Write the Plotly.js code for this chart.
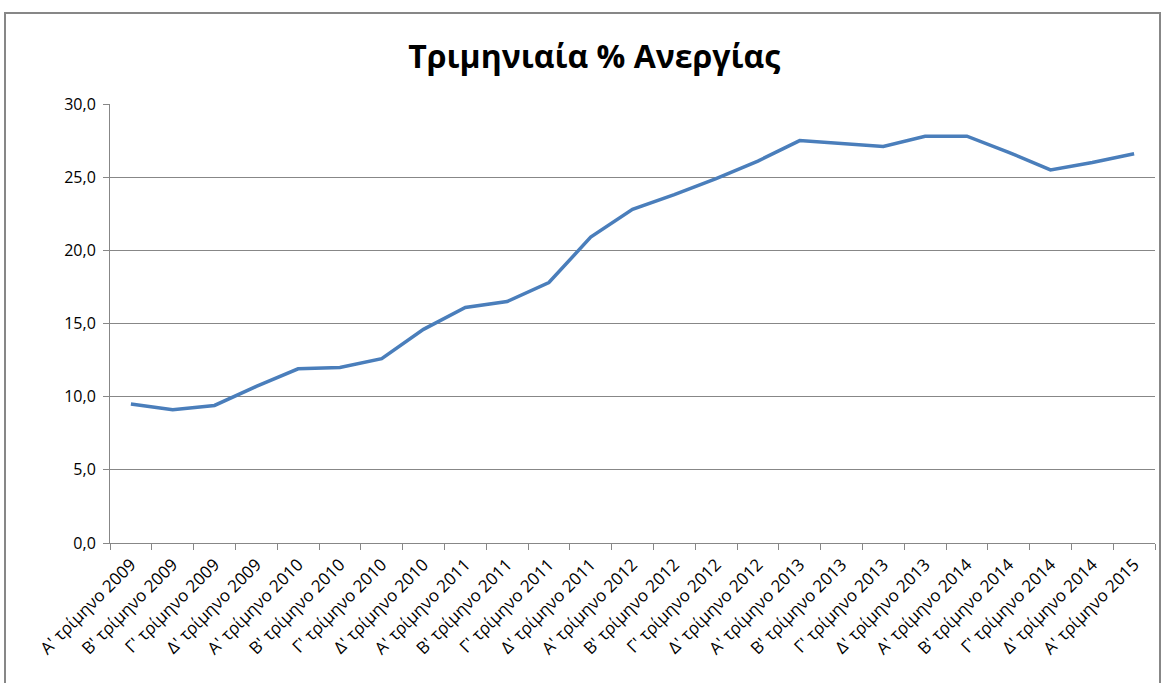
<!DOCTYPE html>
<html>
<head>
<meta charset="utf-8">
<script src="https://cdn.plot.ly/plotly-3.0.1.min.js"></script>
<style>
  html, body { margin: 0; padding: 0; background: #fff; }
  #frame { position: absolute; left: 4px; top: 12px; width: 1157px; height: 720px;
           border: 2px solid #878787; border-bottom: none; box-sizing: border-box; }
  #chart { position: absolute; left: 0; top: 0; width: 1165px; height: 683px; }
</style>
</head>
<body>
<div id="frame"></div>
<div id="chart"></div>
<script>
const categories = [
  "Α' τρίμηνο 2009", "Β' τρίμηνο 2009", "Γ' τρίμηνο 2009", "Δ' τρίμηνο 2009",
  "Α' τρίμηνο 2010", "Β' τρίμηνο 2010", "Γ' τρίμηνο 2010", "Δ' τρίμηνο 2010",
  "Α' τρίμηνο 2011", "Β' τρίμηνο 2011", "Γ' τρίμηνο 2011", "Δ' τρίμηνο 2011",
  "Α' τρίμηνο 2012", "Β' τρίμηνο 2012", "Γ' τρίμηνο 2012", "Δ' τρίμηνο 2012",
  "Α' τρίμηνο 2013", "Β' τρίμηνο 2013", "Γ' τρίμηνο 2013", "Δ' τρίμηνο 2013",
  "Α' τρίμηνο 2014", "Β' τρίμηνο 2014", "Γ' τρίμηνο 2014", "Δ' τρίμηνο 2014",
  "Α' τρίμηνο 2015"
];
const unemployment = [
  9.5, 9.1, 9.4, 10.7,
  11.9, 12.0, 12.6, 14.6,
  16.1, 16.5, 17.8, 20.9,
  22.8, 23.8, 24.9, 26.1,
  27.5, 27.3, 27.1, 27.8,
  27.8, 26.7, 25.5, 26.0,
  26.6
];
const yTicks = [0, 5, 10, 15, 20, 25, 30];
const titleText = "Τριμηνιαία % Ανεργίας";

const font = "'Open Sans', 'Noto Sans', sans-serif";

Plotly.newPlot('chart', [{
  type: 'scatter',
  mode: 'lines',
  x: categories,
  y: unemployment,
  line: { color: '#4a7ebb', width: 3.5 },
  hoverinfo: 'x+y'
}], {
  width: 1165, height: 683,
  margin: { l: 110, r: 10, t: 104, b: 140 },
  paper_bgcolor: 'rgba(0,0,0,0)',
  plot_bgcolor: 'rgba(0,0,0,0)',
  separators: ',.',
  showlegend: false,
  title: {
    text: titleText,
    font: { family: font, size: 32, color: '#000', weight: 'bold' },
    x: 0.51, xanchor: 'center', y: 0.917, yanchor: 'middle'
  },
  xaxis: {
    type: 'category',
    tickangle: -45,
    tickson: 'boundaries',
    ticks: 'outside', ticklen: 6, tickcolor: '#878787',
    ticklabelstandoff: 4,
    showline: true, linecolor: '#878787', linewidth: 1,
    showgrid: false,
    tickfont: { family: font, size: 17, color: '#000' },
    range: [-0.5, categories.length - 0.5]
  },
  yaxis: {
    range: [0, 30],
    tickvals: yTicks,
    tickformat: '.1f',
    ticks: 'outside', ticklen: 6, tickcolor: '#878787',
    ticklabelstandoff: 4,
    showline: true, linecolor: '#878787', linewidth: 1,
    showgrid: true, gridcolor: '#878787', gridwidth: 1,
    zeroline: false,
    tickfont: { family: font, size: 16, color: '#000' }
  }
}, { displayModeBar: false, staticPlot: true });
</script>
</body>
</html>
